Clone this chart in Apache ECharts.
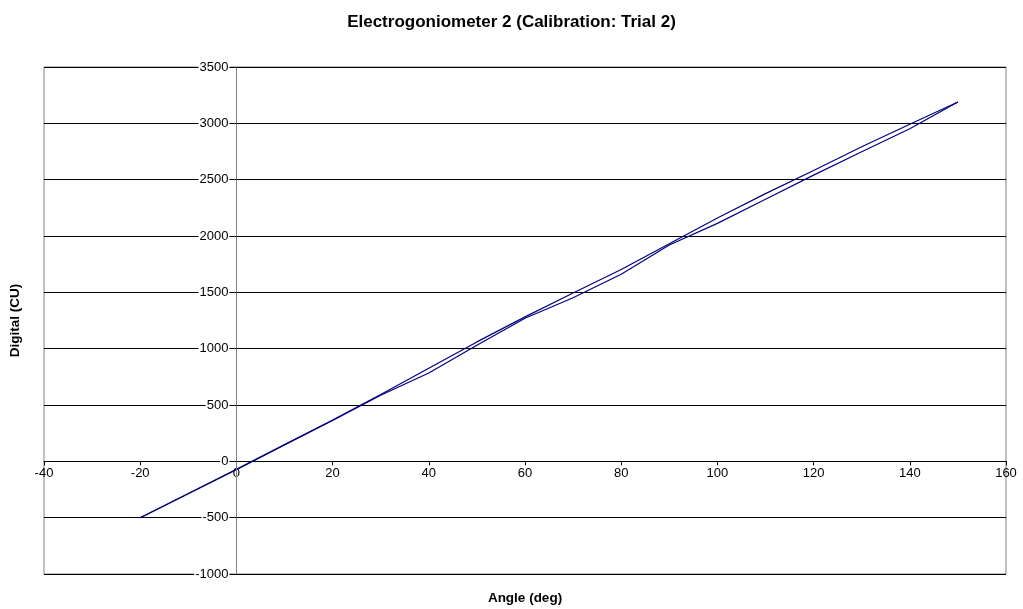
<!DOCTYPE html>
<html>
<head>
<meta charset="utf-8">
<title>Electrogoniometer 2 (Calibration: Trial 2)</title>
<script src="https://cdn.jsdelivr.net/npm/echarts@6/dist/echarts.min.js"></script>
<style>
  html, body { margin: 0; padding: 0; background: #ffffff; }
  #chart { width: 1023px; height: 609px; }
</style>
</head>
<body>
<div id="chart"></div>
<script>
// Goniometer angle setpoints (degrees)
const angles = [-20, -10, 0, 10, 20, 30, 40, 50, 60, 70, 80, 90, 100, 110, 120, 130, 140, 150];
// Digital readings while flexing up to 150 deg
const loading = [-500, -285, -71, 148, 367, 594, 826, 1060, 1282, 1494, 1702, 1932, 2160, 2376, 2582, 2792, 2992, 3190];
// Digital readings while returning to -20 deg
const unloading = [-500, -288, -74, 145, 362, 586, 784, 1030, 1270, 1452, 1660, 1920, 2112, 2326, 2540, 2748, 2952, 3190];

const xTicks = { min: -40, max: 160, interval: 20 };
const yTicks = { min: -1000, max: 3500, interval: 500 };

const toPairs = (xs, ys) => xs.map((x, i) => [x, ys[i]]);
const plain = v => String(v);

// Plot rectangle inside the canvas
const W = 1023, H = 609;
const G = { left: 44, right: 17, top: 67, bottom: 35 };
const plotW = W - G.left - G.right;
const plotH = H - G.top - G.bottom;
// Shift the axes so they cross at the origin (value 0 on each)
const yAxisShift = -plotW * (0 - xTicks.min) / (xTicks.max - xTicks.min);
const xAxisShift = -plotH * (0 - yTicks.min) / (yTicks.max - yTicks.min);

const chart = echarts.init(document.getElementById('chart'), null, { renderer: 'canvas' });
const font = 'Arial, "Liberation Sans", sans-serif';
const lineColor = '#000080';

chart.setOption({
  backgroundColor: '#ffffff',
  animation: false,
  title: {
    text: 'Electrogoniometer 2 (Calibration: Trial 2)',
    left: 'center',
    top: 9,
    textStyle: { fontFamily: font, fontSize: 17, fontWeight: 'bold', color: '#000000' }
  },
  grid: {
    left: G.left, right: G.right, top: G.top, bottom: G.bottom,
    containLabel: false,
    outerBoundsMode: 'none',
    show: true, borderColor: '#808080', borderWidth: 1, backgroundColor: '#ffffff'
  },
  xAxis: {
    type: 'value',
    position: 'bottom',
    offset: xAxisShift,
    min: xTicks.min, max: xTicks.max, interval: xTicks.interval,
    name: 'Angle (deg)',
    nameLocation: 'middle',
    nameGap: 130,
    nameTextStyle: { fontFamily: font, fontSize: 13.5, fontWeight: 'bold', color: '#000000' },
    axisLine: { onZero: false, lineStyle: { color: '#000000', width: 1 } },
    axisTick: { show: true, inside: false, length: 4, lineStyle: { color: '#000000' } },
    axisLabel: { fontFamily: font, fontSize: 13, color: '#000000', margin: 6, formatter: plain, showMinLabel: true, showMaxLabel: true },
    splitLine: { show: false }
  },
  yAxis: [
    {
      // horizontal gridlines only
      type: 'value',
      z: 0,
      min: yTicks.min, max: yTicks.max, interval: yTicks.interval,
      axisLine: { show: false },
      axisTick: { show: false },
      axisLabel: { show: false },
      splitLine: { show: true, lineStyle: { color: '#000000', width: 1 } }
    },
    {
      // value axis drawn through x = 0, labels masking the gridlines
      type: 'value',
      z: 5,
      position: 'left',
      offset: yAxisShift,
      min: yTicks.min, max: yTicks.max, interval: yTicks.interval,
      name: 'Digital (CU)',
      nameLocation: 'middle',
      nameRotate: 90,
      nameGap: 214,
      nameTextStyle: { fontFamily: font, fontSize: 13.5, fontWeight: 'bold', color: '#000000' },
      axisLine: { onZero: false, lineStyle: { color: '#808080', width: 1 } },
      axisTick: { show: true, inside: false, length: 5, lineStyle: { color: '#000000' } },
      axisLabel: {
        fontFamily: font, fontSize: 13, color: '#000000', margin: 7,
        backgroundColor: '#ffffff', padding: [0, 1, 0, 1],
        formatter: plain, showMinLabel: true, showMaxLabel: true
      },
      splitLine: { show: false }
    }
  ],
  series: [
    {
      name: 'Loading',
      type: 'line',
      yAxisIndex: 0,
      data: toPairs(angles, loading),
      showSymbol: false,
      symbol: 'none',
      smooth: false,
      lineStyle: { color: lineColor, width: 1.2 },
      z: 3
    },
    {
      name: 'Unloading',
      type: 'line',
      yAxisIndex: 0,
      data: toPairs(angles, unloading),
      showSymbol: false,
      symbol: 'none',
      smooth: false,
      lineStyle: { color: lineColor, width: 1.2 },
      z: 3
    }
  ]
});
</script>
</body>
</html>
